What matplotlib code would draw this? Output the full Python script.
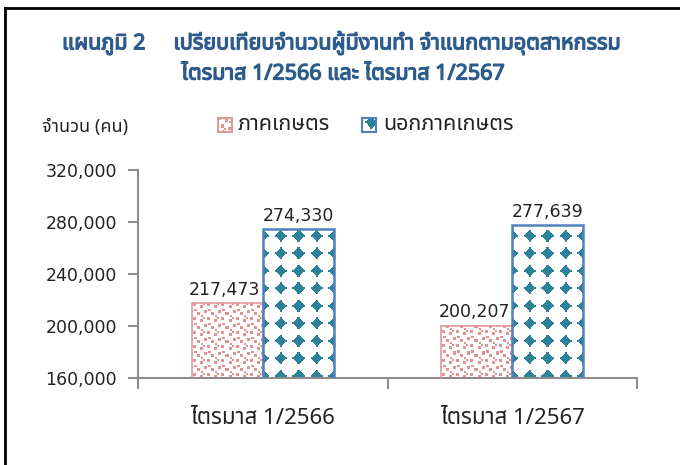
import numpy as np
import matplotlib
matplotlib.use('Agg')
import matplotlib.pyplot as plt
import matplotlib.patheffects as pe
from matplotlib.lines import Line2D

# ข้อมูล
categories = ['ไตรมาส 1/2566', 'ไตรมาส 1/2567']
series_names = ['ภาคเกษตร', 'นอกภาคเกษตร']
agri = [217473, 200207]
non_agri = [274330, 277639]
y_ticks = [160000, 200000, 240000, 280000, 320000]

thai = ['Noto Sans Thai', 'Loma', 'DejaVu Sans']
num = ['DejaVu Sans', 'Noto Sans Thai']
plt.rcParams['font.family'] = thai

pink = '#E39A9A'
blue_edge = '#4F81BD'


def make_pattern(wpx, hpx, kind, ox=0, oy=0):
    # ลายเติมแบบ Excel (จุดสี่เหลี่ยม / ข้าวหลามตัด)
    img = np.ones((hpx, wpx, 4))
    yy, xx = np.mgrid[0:hpx, 0:wpx]
    if kind == 'dots':
        col = np.array([0.88, 0.58, 0.58, 1])
        tx = (xx + ox) % 14
        ty = (yy + oy) % 14
        m = np.zeros_like(xx, dtype=bool)
        for (sx, sy, sw, sh) in [(0, 0, 3, 3), (7, 2, 3, 3), (3, 7, 3, 3), (10, 9, 3, 3),
                                 (11, 4, 3, 2), (4, 12, 2, 2), (6, 10, 2, 2)]:
            m |= (tx >= sx) & (tx < sx + sw) & (ty >= sy) & (ty < sy + sh)
    else:
        col = np.array([0.18, 0.51, 0.60, 1])
        p = 17.5
        dx = np.abs(((xx + ox) % p) - p / 2)
        dy = np.abs(((yy + oy) % p) - p / 2)
        m = (dx + dy <= 5.6) | (dx**2 + dy**2 <= 17) | ((dx <= 1.0) & (dy <= 5.9)) | ((dy <= 1.0) & (dx <= 5.9))
    img[m] = col
    return img


fig = plt.figure(figsize=(6.8, 4.65), dpi=100)
ax = fig.add_axes([138/680, 1 - 378/465, (637-138)/680, (378-170)/465])

x = np.arange(len(categories))
w = 0.285
b1 = ax.bar(x - w/2, agri, w, color='white', edgecolor=pink, linewidth=1.2, label=series_names[0])
b2 = ax.bar(x + w/2, non_agri, w, color='white', edgecolor=blue_edge, linewidth=1.8, label=series_names[1])

ax.set_xlim(-0.5, 1.5)
ax.set_ylim(160000, 320000)
ax.set_yticks(y_ticks)
ax.set_yticklabels([f'{v:,}' for v in y_ticks], fontsize=12.5, color='#222222', family=num)
ax.set_xticks([-0.5, 0.5, 1.5])
ax.set_xticklabels([])
ax.tick_params(axis='x', length=8, color='#8C8C8C', width=1.5, direction='out')
ax.tick_params(axis='y', length=7, color='#8C8C8C', width=1.5, direction='out', pad=8)
for s in ['top', 'right']:
    ax.spines[s].set_visible(False)
for s in ['left', 'bottom']:
    ax.spines[s].set_color('#8C8C8C')
    ax.spines[s].set_linewidth(1.5)
for i, c in enumerate(categories):
    ax.text(i, 129000, c, ha='center', va='center', fontsize=16, color='#222222')

fig.canvas.draw()

# ลายในแท่ง
for bars, kind in [(b1, 'dots'), (b2, 'diamonds')]:
    for bar in bars:
        (x0, y0), (x1, y1) = ax.transData.transform([(bar.get_x(), 160000),
                                                     (bar.get_x() + bar.get_width(), bar.get_height())])
        img = make_pattern(int(round(x1 - x0)), int(round(y1 - y0)), kind, ox=9, oy=7)
        ax.imshow(img[::-1], extent=[bar.get_x(), bar.get_x() + bar.get_width(), 160000, bar.get_height()],
                  aspect='auto', interpolation='nearest', zorder=2)
        bar.set_facecolor('none')
        bar.set_zorder(3)
ax.set_xlim(-0.5, 1.5)
ax.set_ylim(160000, 320000)

for i in range(len(categories)):
    ax.text(x[i] - w/2 - 0.01, agri[i] + 3500, f'{agri[i]:,}', ha='center', va='bottom',
            fontsize=12.5, color='#222222', family=num)
    ax.text(x[i] + w/2, non_agri[i] + 3500, f'{non_agri[i]:,}', ha='center', va='bottom',
            fontsize=12.5, color='#222222', family=num)

# หัวเรื่อง
title_col = '#2C5B8C'
bold = [pe.withStroke(linewidth=0.9, foreground=title_col)]
fig.text(341/680, 1 - 43/465, 'แผนภูมิ 2     เปรียบเทียบจำนวนผู้มีงานทำ จำแนกตามอุตสาหกรรม',
         ha='center', va='center', fontsize=15.5, color=title_col, path_effects=bold)
fig.text(343/680, 1 - 74/465, 'ไตรมาส 1/2566 และ ไตรมาส 1/2567',
         ha='center', va='center', fontsize=15.5, color=title_col, path_effects=bold)
fig.text(42/680, 1 - 127/465, 'จำนวน (คน)', ha='left', va='center', fontsize=13, color='#222222')

# legend
fig.text(238/680, 1 - 125/465, series_names[0], ha='left', va='center', fontsize=15.5, color='#222222')
fig.text(383/680, 1 - 125/465, series_names[1], ha='left', va='center', fontsize=15.5, color='#222222')
for lx, kind, ec, ox, oy in [(218, 'dots', pink, 0, 0), (362, 'diamonds', blue_edge, 0, 4)]:
    lax = fig.add_axes([lx/680, 1 - 132/465, 14/680, 14/465])
    lax.imshow(make_pattern(14, 14, kind, ox, oy), interpolation='nearest', aspect='auto')
    lax.set_xticks([])
    lax.set_yticks([])
    for s in lax.spines.values():
        s.set_color(ec)
        s.set_linewidth(1.5)

# กรอบ
fig.add_artist(Line2D([5/680, 5/680], [0, 1 - 8/465], color='black', lw=2, transform=fig.transFigure))
fig.add_artist(Line2D([5/680, 1], [1 - 8/465, 1 - 8/465], color='black', lw=2, transform=fig.transFigure))

fig.savefig('out.png', dpi=100)
